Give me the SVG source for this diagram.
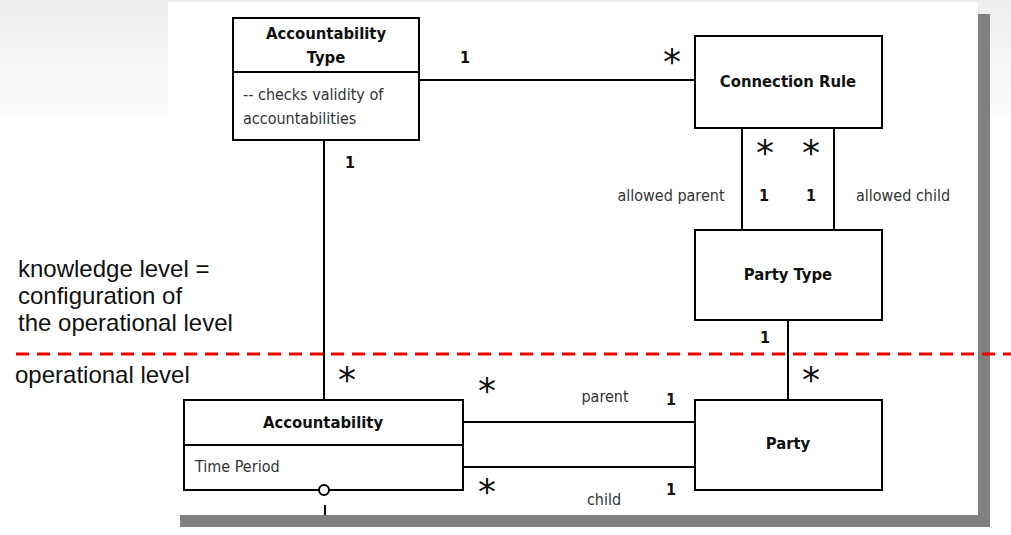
<svg xmlns="http://www.w3.org/2000/svg" width="1011" height="535" viewBox="0 0 1011 535">
<defs>
<linearGradient id="bg" x1="0" y1="0" x2="0" y2="1">
<stop offset="0" stop-color="#eeeeee"/>
<stop offset="1" stop-color="#fcfcfc"/>
</linearGradient>
</defs>
<style>
.box{fill:#fff;stroke:#000;stroke-width:2}
.ln{stroke:#000;stroke-width:2;fill:none}
.hd{font-family:"DejaVu Sans Condensed","DejaVu Sans",sans-serif;font-stretch:condensed;font-weight:bold;font-size:16.5px;fill:#111;text-anchor:middle}
.bd{font-family:"DejaVu Sans Condensed","DejaVu Sans",sans-serif;font-stretch:condensed;font-size:16px;fill:#333}
.lb{font-family:"DejaVu Sans Condensed","DejaVu Sans",sans-serif;font-stretch:condensed;font-size:16px;fill:#333;text-anchor:middle}
.one{font-family:"DejaVu Sans Condensed","DejaVu Sans",sans-serif;font-stretch:condensed;font-weight:bold;font-size:16px;fill:#111;text-anchor:middle}
.star{font-family:"DejaVu Sans",sans-serif;font-size:36px;fill:#111;text-anchor:middle}
.note{font-family:"Liberation Sans",Arial,sans-serif;font-size:24px;fill:#111}
</style>
<rect x="0" y="0" width="1011" height="535" fill="#fff"/>
<rect x="0" y="0" width="1011" height="118" fill="url(#bg)"/>
<rect x="180" y="14" width="810" height="513" fill="#808080"/>
<rect x="168" y="2" width="810" height="513" fill="#fff"/>

<g id="connectors">
<line class="ln" x1="419" y1="80" x2="695" y2="80"/>
<line class="ln" x1="324" y1="140" x2="324" y2="400"/>
<line class="ln" x1="742" y1="128" x2="742" y2="230"/>
<line class="ln" x1="834" y1="128" x2="834" y2="230"/>
<line class="ln" x1="788" y1="320" x2="788" y2="400"/>
<line class="ln" x1="463" y1="422" x2="695" y2="422"/>
<line class="ln" x1="463" y1="467" x2="695" y2="467"/>
<line class="ln" x1="325" y1="505" x2="325" y2="515"/>
<text class="one" x="465" y="63">1</text>
<text class="star" x="672" y="74">*</text>
<text class="one" x="350" y="168">1</text>
<text class="star" x="765" y="165">*</text>
<text class="star" x="811" y="165">*</text>
<text class="lb" x="671" y="201">allowed parent</text>
<text class="one" x="764" y="201">1</text>
<text class="one" x="811" y="201">1</text>
<text class="lb" x="903" y="201">allowed child</text>
<text class="one" x="765" y="343">1</text>
<text class="star" x="811" y="392">*</text>
<text class="star" x="347" y="392">*</text>
<text class="star" x="487" y="403">*</text>
<text class="lb" x="605" y="402">parent</text>
<text class="one" x="671" y="405">1</text>
<text class="star" x="487" y="504">*</text>
<text class="lb" x="604" y="505">child</text>
<text class="one" x="671" y="495">1</text>
</g>

<g id="accountability-type">
<rect class="box" x="233" y="18" width="186" height="122"/>
<line class="ln" x1="233" y1="72" x2="419" y2="72"/>
<text class="hd" x="326" y="39">Accountability</text>
<text class="hd" x="326" y="63">Type</text>
<text class="bd" x="243" y="100">-- checks validity of</text>
<text class="bd" x="243" y="124">accountabilities</text>
</g>

<g id="connection-rule">
<rect class="box" x="695" y="36" width="187" height="92"/>
<text class="hd" x="788" y="87">Connection Rule</text>
</g>

<g id="party-type">
<rect class="box" x="695" y="230" width="187" height="90"/>
<text class="hd" x="788" y="280">Party Type</text>
</g>

<g id="accountability">
<rect class="box" x="184" y="400" width="279" height="90"/>
<line class="ln" x1="184" y1="445" x2="463" y2="445"/>
<text class="hd" x="323" y="428">Accountability</text>
<text class="bd" x="195" y="472">Time Period</text>
<circle cx="324" cy="490" r="5" fill="#fff" stroke="#000" stroke-width="2"/>
</g>

<g id="party">
<rect class="box" x="695" y="400" width="187" height="90"/>
<text class="hd" x="788" y="449">Party</text>
</g>

<line x1="16" y1="354" x2="1011" y2="354" stroke="#ee0000" stroke-width="3" stroke-dasharray="13 8"/>

<g id="level-notes">
<text class="note" x="18" y="277">knowledge level =</text>
<text class="note" x="18" y="304">configuration of</text>
<text class="note" x="18" y="331">the operational level</text>
<text class="note" x="15" y="383">operational level</text>
</g>
</svg>
